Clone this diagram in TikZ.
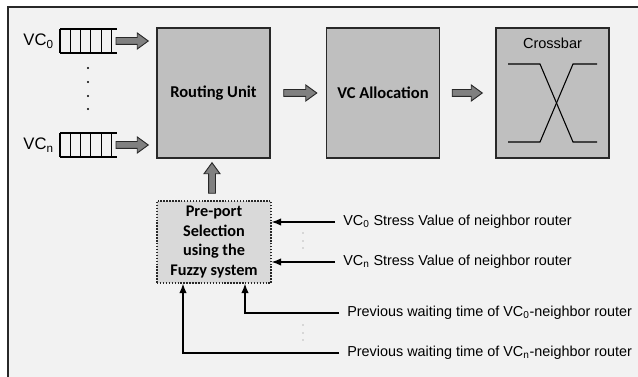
\documentclass[tikz,border=0pt]{standalone}
\usepackage{fontspec}
\setmainfont{Liberation Sans}
\newfontfamily\calibri{Carlito}
\usetikzlibrary{calc,arrows.meta}
\definecolor{bgcol}{RGB}{242,242,242}
\definecolor{boxcol}{RGB}{191,191,191}
\definecolor{ppcol}{RGB}{217,217,217}
\definecolor{arrcol}{RGB}{128,128,128}
\definecolor{edgecol}{RGB}{40,40,40}
\newcommand\fatright[2]{\draw[fatarr] let \p1=(#1), \p2=(#2) in
  (\x1,{\y1-2.6pt}) -- ({\x2-8.25pt},{\y1-2.6pt}) -- ({\x2-8.25pt},{\y1-6pt}) -- (\x2,\y1)
  -- ({\x2-8.25pt},{\y1+6pt}) -- ({\x2-8.25pt},{\y1+2.6pt}) -- (\x1,{\y1+2.6pt}) -- cycle;}
\newcommand\fatup[2]{\draw[fatarr] let \p1=(#1), \p2=(#2) in
  ({\x1-2.6pt},\y1) -- ({\x1-2.6pt},{\y2-8.25pt}) -- ({\x1-6pt},{\y2-8.25pt}) -- (\x1,\y2)
  -- ({\x1+6pt},{\y2-8.25pt}) -- ({\x1+2.6pt},{\y2-8.25pt}) -- ({\x1+2.6pt},\y1) -- cycle;}
\begin{document}
\begin{tikzpicture}[x=0.75pt,y=-0.75pt,
  unitbox/.style={draw=edgecol,line width=1.1pt,fill=boxcol,minimum width=84.75pt,minimum height=97.5pt,inner sep=0pt,
     font=\calibri\bfseries\fontsize{12.4}{14}\selectfont},
  ppbox/.style={draw=edgecol,line width=1.1pt,dash pattern=on 1.1pt off 1.1pt,fill=ppcol,minimum width=85.5pt,minimum height=61.5pt,inner sep=0pt,
     align=center,font=\calibri\bfseries\fontsize{12.2}{14.6}\selectfont},
  fatarr/.style={draw=edgecol,fill=arrcol,line width=0.7pt,line join=miter},
  inarr/.style={draw=black,line width=0.8pt,-{Latex[length=7pt,width=5.5pt]}},
  lbl/.style={anchor=west,inner sep=0pt,font=\fontsize{10.8}{12}\selectfont},
  vclbl/.style={anchor=east,inner sep=0pt,font=\fontsize{12.5}{14}\selectfont},
  buf/.style={draw=black,line width=0.8pt},
  tinydot/.style={fill=gray,draw=none}]
\useasboundingbox (0,0) rectangle (638,377);
% frame
\fill[bgcol] (8,7) rectangle (650,390);
\draw[edgecol,line width=1.3pt] (8,390) -- (8,7) -- (650,7);

% main boxes
\node[unitbox] (ru) at (213.5,93) {Routing Unit};
\node[unitbox] (vca) at (383,93) {VC Allocation};
\node[unitbox] (xb) at (552.5,93) {};
\node[inner sep=0pt,font=\fontsize{10.9}{12}\selectfont] (xbt) at (552.5,43) {Crossbar};
\draw[black,line width=0.8pt] (508,64) -- (540,64) -- (573,142) -- (597,142);
\draw[black,line width=0.8pt] (508,142) -- (540,142) -- (573,64) -- (597,64);

% buffers
\foreach \yy/\nm in {29/b0,133/bn}{
  \draw[buf] (60,\yy) -- (117,\yy) (60,\yy+24) -- (117,\yy+24);
  \foreach \xx in {60,70.3,80.6,90.9,101.2,111.5}{\draw[buf] (\xx,\yy) -- (\xx,\yy+24);}
}
\coordinate (b0e) at (116,41);
\coordinate (bne) at (116,145);
\node[vclbl] (vc0) at (54,41) {VC\textsubscript{0}};
\node[vclbl] (vcn) at (54,145) {VC\textsubscript{n}};
\foreach \yy in {68,82,96,109}{\fill[black] (88,\yy) circle (1.2);}

% fat arrows
\fatright{b0e}{[xshift=-6pt]ru.west |- b0e}
\fatright{bne}{[xshift=-6pt]ru.west |- bne}
\fatright{[xshift=9.75pt]ru.east}{[xshift=-6.75pt]vca.west}
\fatright{[xshift=9pt]vca.east}{[xshift=-9.75pt]xb.west}

% pre-port box
\node[ppbox] (pp) at (214,242) {Pre-port\\Selection\\using the\\Fuzzy system};
\fatup{[xshift=-1.5pt,yshift=5.25pt]pp.north}{[xshift=-1.5pt,yshift=-3pt]ru.south}

% input labels
\node[lbl] (l1) at (343,222) {VC\textsubscript{0} Stress Value of neighbor router};
\node[lbl] (l2) at (343,262) {VC\textsubscript{n} Stress Value of neighbor router};
\node[lbl] (l3) at (347,313) {Previous waiting time of VC\textsubscript{0}-neighbor router};
\node[lbl] (l4) at (347,353) {Previous waiting time of VC\textsubscript{n}-neighbor router};

\draw[inarr] ([xshift=-6pt]l1.west) -- (l1.west -| pp.east);
\draw[inarr] ([xshift=-6pt]l2.west) -- (l2.west -| pp.east);
\draw[inarr] ([xshift=-6pt]l3.west) -| ([xshift=23.25pt]pp.south);
\draw[inarr] ([xshift=-6pt]l4.west) -| ([xshift=-23.25pt]pp.south);

\foreach \yy in {233,241,248,325,333,340}{\fill[tinydot] (303,\yy) circle (0.6);}
\end{tikzpicture}
\end{document}
